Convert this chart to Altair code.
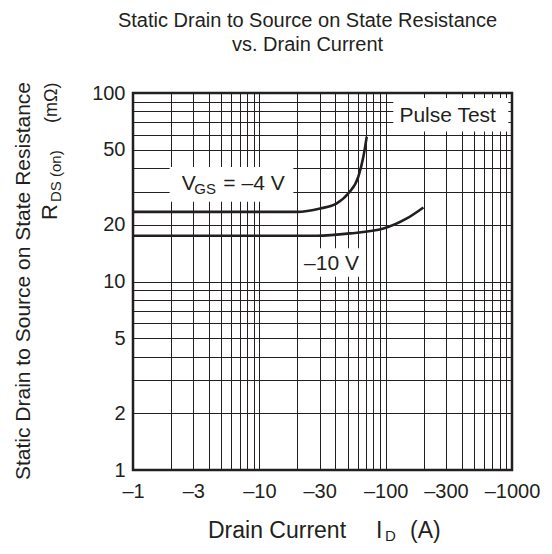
import altair as alt
import pandas as pd

# ---------------- data ----------------
# V_GS = -4 V curve (drain current magnitude in A, resistance in mOhm)
id_4v = [1, 10, 19.8, 30.3, 41, 50.7, 60.8, 66.6, 70.8]
r_4v = [23.4, 23.4, 23.4, 24.4, 26.0, 29.4, 36.0, 45.9, 58.6]
# V_GS = -10 V curve
id_10v = [1, 10, 28.5, 52, 96, 147, 199]
r_10v = [17.5, 17.5, 17.5, 18.0, 19.1, 21.6, 24.7]

# grid lines and tick labels
grid_x = [1, 2, 3, 4, 5, 6, 7, 8, 9, 10, 20, 30, 40, 50, 60, 70, 80, 90,
          100, 200, 300, 400, 500, 600, 700, 800, 900, 1000]
grid_y = [1, 2, 3, 4, 5, 6, 7, 8, 9, 10, 20, 30, 40, 50, 60, 70, 80, 90, 100]
label_x = [1, 3, 10, 30, 100, 300, 1000]
label_y = [1, 2, 5, 10, 20, 50, 100]

# in-plot annotations (white boxes behind text), data coordinates
box_x1 = [1.95, 22.2, 115]
box_x2 = [18.6, 62.7, 935]
box_y1 = [26.5, 10.6, 62.4]
box_y2 = [40.5, 15.0, 94]

ann_text = ["V", "GS", "= \u20134 V", "\u201310 V", "Pulse Test"]
ann_x = [2.43, 3.06, 5.19, 22.6, 128.5]
ann_y = [30.6, 29.0, 30.6, 11.5, 70.5]
ann_size = [21, 15, 21, 21, 21]

INK = "#231f20"
FONT = "Liberation Sans"

curves = pd.DataFrame({
    "id": id_4v + id_10v,
    "r": r_4v + r_10v,
    "s": ["-4"] * len(id_4v) + ["-10"] * len(id_10v),
})
boxes = pd.DataFrame({"x1": box_x1, "x2": box_x2, "y1": box_y1, "y2": box_y2})
ann = pd.DataFrame({"t": ann_text, "x": ann_x, "y": ann_y, "sz": ann_size})

xscale = alt.Scale(type="log", domain=[1, 1000], nice=False)
yscale = alt.Scale(type="log", domain=[1, 100], nice=False)

x_labels_js = "[" + ",".join(str(v) for v in label_x) + "]"
y_labels_js = "[" + ",".join(str(v) for v in label_y) + "]"

x_axis = alt.Axis(
    values=grid_x, grid=True, gridColor=INK, gridWidth=1, gridOpacity=1,
    domain=False, ticks=False, labelOverlap=False, labelFlush=False,
    labelExpr=f"indexof({x_labels_js}, datum.value) >= 0 ? '\u2013' + datum.value : ''",
    labelFont=FONT, labelFontSize=20, labelColor=INK, labelPadding=11, title=None,
)
y_axis = alt.Axis(
    values=grid_y, grid=True, gridColor=INK, gridWidth=1, gridOpacity=1,
    domain=False, ticks=False, labelOverlap=False, labelFlush=False,
    labelExpr=f"indexof({y_labels_js}, datum.value) >= 0 ? '' + datum.value : ''",
    labelFont=FONT, labelFontSize=20, labelColor=INK, labelPadding=8, title=None,
)

rects = alt.Chart(boxes).mark_rect(fill="white", strokeWidth=0).encode(
    x=alt.X("x1:Q", scale=xscale, axis=x_axis),
    x2="x2:Q",
    y=alt.Y("y1:Q", scale=yscale, axis=y_axis),
    y2="y2:Q",
)

lines = alt.Chart(curves).mark_line(
    color=INK, strokeWidth=2.6, interpolate="monotone"
).encode(
    x=alt.X("id:Q", scale=xscale, axis=x_axis),
    y=alt.Y("r:Q", scale=yscale, axis=y_axis),
    detail="s:N",
)

texts = alt.Chart(ann).mark_text(
    align="left", baseline="alphabetic", font=FONT, color=INK
).encode(
    x=alt.X("x:Q", scale=xscale, axis=x_axis),
    y=alt.Y("y:Q", scale=yscale, axis=y_axis),
    text="t:N",
    size=alt.Size("sz:Q", scale=None, legend=None),
)


def label(txt, px, py, size, angle=0, align="left"):
    return alt.Chart(pd.DataFrame({"t": [txt]})).mark_text(
        align=align, baseline="alphabetic", font=FONT, color=INK,
        fontSize=size, angle=angle,
    ).encode(x=alt.value(px), y=alt.value(py), text="t:N")


axis_titles = [
    label("Static Drain to Source on State Resistance", -103, 188, 21, 270, "center"),
    label("R", -76, 127, 22, 270),
    label("DS (on)", -72, 109, 15, 270),
    label("(m\u03a9)", -76, 30, 18, 270),
    label("Drain Current", 75, 445, 23),
    label("I", 243, 445, 23),
    label("D", 252, 448, 15),
    label("(A)", 277, 445, 23),
]

chart = alt.layer(rects, lines, texts, *axis_titles).properties(
    width=379,
    height=377,
    padding={"left": 125, "top": 85, "right": 32, "bottom": 76},
    autosize=alt.AutoSizeParams(type="none"),
    background="white",
    title=alt.TitleParams(
        text=["Static Drain to Source on State Resistance", "vs. Drain Current"],
        font=FONT, fontSize=20, fontWeight="normal", color=INK,
        anchor="middle", dx=-15, offset=27, lineHeight=24,
    ),
).configure_view(
    stroke=INK, strokeWidth=2.5
)

chart.save("out.html", embed_options={"renderer": "svg", "actions": False})
